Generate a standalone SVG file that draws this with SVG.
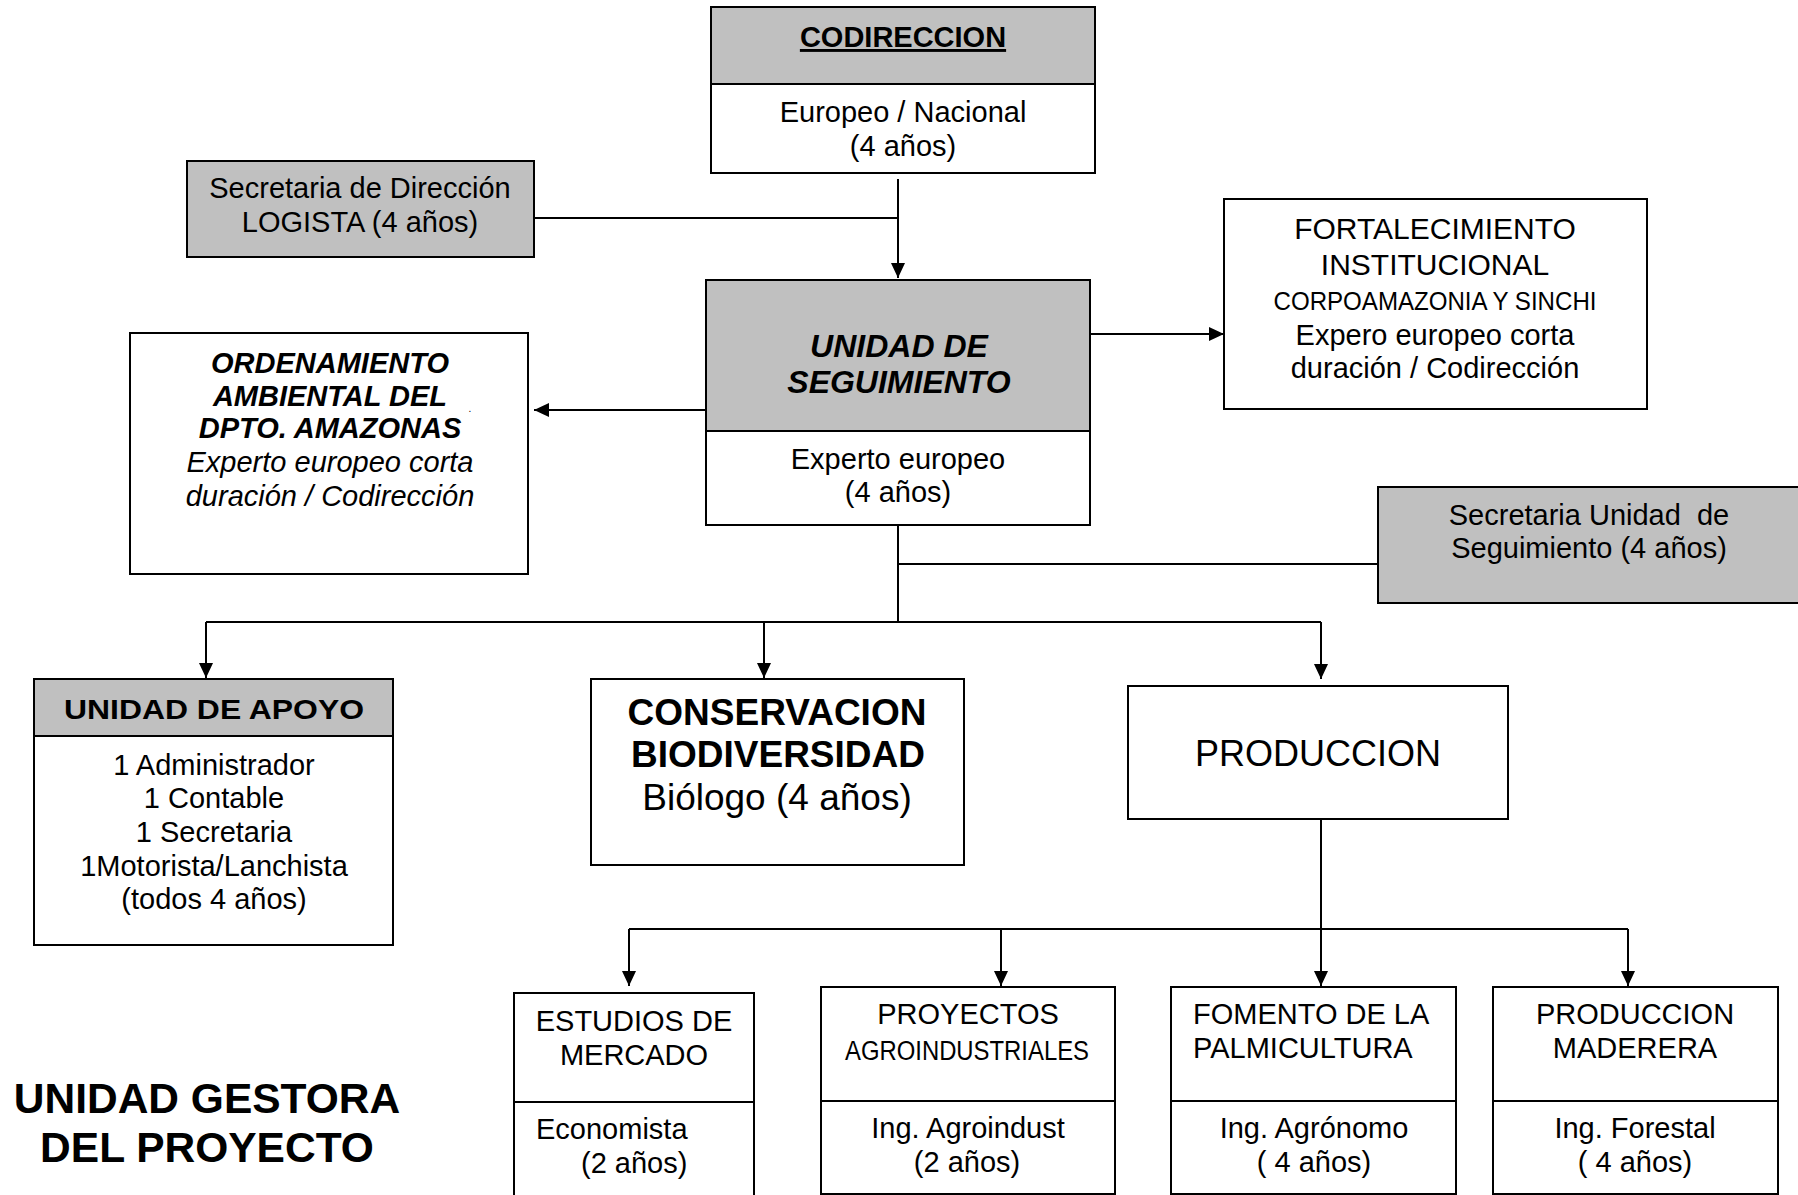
<svg xmlns="http://www.w3.org/2000/svg" width="1798" height="1195" viewBox="0 0 1798 1195">
<style>
text{font-family:"Liberation Sans",Arial,sans-serif;fill:#000;text-anchor:middle}
.f29{font-size:29px}
.b{font-weight:bold}
.i{font-style:italic}
.box{fill:#fff;stroke:#000;stroke-width:2}
.gray{fill:#C0C0C0;stroke:#000;stroke-width:2}
.ln{fill:none;stroke:#000;stroke-width:2}
</style>
<defs>
<marker id="arr" viewBox="0 0 15 14" refX="15" refY="7" markerWidth="15" markerHeight="14" markerUnits="userSpaceOnUse" orient="auto">
<path d="M0,0 L15,7 L0,14 z" fill="#000"/>
</marker>
</defs>
<rect width="1798" height="1195" fill="#fff"/>

<g id="connectors">
<path class="ln" d="M534,218 H898"/>
<path class="ln" d="M898,179 V278" marker-end="url(#arr)"/>
<path class="ln" d="M706,410 H534" marker-end="url(#arr)"/>
<path class="ln" d="M1090,334 H1224" marker-end="url(#arr)"/>
<path class="ln" d="M898,525 V622"/>
<path class="ln" d="M898,564 H1378"/>
<path class="ln" d="M206,622 H1321"/>
<path class="ln" d="M206,622 V678" marker-end="url(#arr)"/>
<path class="ln" d="M764,622 V678" marker-end="url(#arr)"/>
<path class="ln" d="M1321,622 V679" marker-end="url(#arr)"/>
<path class="ln" d="M1321,813 V986" marker-end="url(#arr)"/>
<path class="ln" d="M629,929 H1628"/>
<path class="ln" d="M629,929 V986" marker-end="url(#arr)"/>
<path class="ln" d="M1001,929 V986" marker-end="url(#arr)"/>
<path class="ln" d="M1628,929 V986" marker-end="url(#arr)"/>
</g>

<g id="codireccion">
<rect class="gray" x="711" y="7" width="384" height="77"/>
<rect class="box" x="711" y="84" width="384" height="89"/>
<text class="f29 b" x="903" y="47" text-decoration="underline">CODIRECCION</text>
<text class="f29" x="903" y="122">Europeo / Nacional</text>
<text class="f29" x="903" y="156">(4 años)</text>
</g>

<g id="secretaria-direccion">
<rect class="gray" x="187" y="161" width="347" height="96"/>
<text class="f29" x="360" y="198">Secretaria de Dirección</text>
<text class="f29" x="360" y="232">LOGISTA (4 años)</text>
</g>

<g id="unidad-seguimiento">
<rect class="gray" x="706" y="280" width="384" height="151"/>
<rect class="box" x="706" y="431" width="384" height="94"/>
<text class="b i" style="font-size:32px" x="899" y="357">UNIDAD DE</text>
<text class="b i" style="font-size:32px" x="899" y="393">SEGUIMIENTO</text>
<text class="f29" x="898" y="469">Experto europeo</text>
<text class="f29" x="898" y="502">(4 años)</text>
</g>

<g id="ordenamiento">
<rect class="box" x="130" y="333" width="398" height="241"/>
<text class="f29 b i" x="330" y="373">ORDENAMIENTO</text>
<text class="f29 b i" x="330" y="406">AMBIENTAL DEL</text>
<text class="f29 b i" x="330" y="438">DPTO. AMAZONAS</text>
<text style="font-size:10px" x="470" y="412">.</text>
<text class="f29 i" x="330" y="472">Experto europeo corta</text>
<text class="f29 i" x="330" y="506">duración / Codirección</text>
</g>

<g id="fortalecimiento">
<rect class="box" x="1224" y="199" width="423" height="210"/>
<text style="font-size:30px" x="1435" y="239">FORTALECIMIENTO</text>
<text style="font-size:30px" x="1435" y="275">INSTITUCIONAL</text>
<text style="font-size:25px" x="1435" y="310" textLength="323" lengthAdjust="spacingAndGlyphs">CORPOAMAZONIA Y SINCHI</text>
<text class="f29" x="1435" y="345">Expero europeo corta</text>
<text class="f29" x="1435" y="378">duración / Codirección</text>
</g>

<g id="secretaria-unidad">
<rect class="gray" x="1378" y="487" width="424" height="116"/>
<text class="f29" x="1589" y="525" xml:space="preserve">Secretaria Unidad  de</text>
<text class="f29" x="1589" y="558">Seguimiento (4 años)</text>
</g>

<g id="unidad-apoyo">
<rect class="gray" x="34" y="679" width="359" height="57"/>
<rect class="box" x="34" y="736" width="359" height="209"/>
<text class="b" style="font-size:28px" x="214" y="719" textLength="300" lengthAdjust="spacingAndGlyphs">UNIDAD DE APOYO</text>
<text class="f29" x="214" y="775">1 Administrador</text>
<text class="f29" x="214" y="808">1 Contable</text>
<text class="f29" x="214" y="842">1 Secretaria</text>
<text class="f29" x="214" y="876">1Motorista/Lanchista</text>
<text class="f29" x="214" y="909">(todos 4 años)</text>
</g>

<g id="conservacion">
<rect class="box" x="591" y="679" width="373" height="186"/>
<text class="b" style="font-size:37px" x="777" y="725">CONSERVACION</text>
<text class="b" style="font-size:37px" x="778" y="767">BIODIVERSIDAD</text>
<text style="font-size:37px" x="777" y="810">Biólogo (4 años)</text>
</g>

<g id="produccion">
<rect class="box" x="1128" y="686" width="380" height="133"/>
<text style="font-size:36px" x="1318" y="766">PRODUCCION</text>
</g>

<g id="estudios-mercado">
<rect class="box" x="514" y="993" width="240" height="109"/>
<rect class="box" x="514" y="1102" width="240" height="95"/>
<text class="f29" x="634" y="1031">ESTUDIOS DE</text>
<text class="f29" x="634" y="1065">MERCADO</text>
<text class="f29" x="536" y="1139" style="text-anchor:start">Economista</text>
<text class="f29" x="581" y="1173" style="text-anchor:start">(2 años)</text>
</g>

<g id="proyectos-agroindustriales">
<rect class="box" x="821" y="987" width="294" height="114"/>
<rect class="box" x="821" y="1101" width="294" height="93"/>
<text class="f29" x="968" y="1024">PROYECTOS</text>
<text style="font-size:27px" x="967" y="1060" textLength="244" lengthAdjust="spacingAndGlyphs">AGROINDUSTRIALES</text>
<text class="f29" x="968" y="1138">Ing. Agroindust</text>
<text class="f29" x="967" y="1172">(2 años)</text>
</g>

<g id="fomento-palmicultura">
<rect class="box" x="1171" y="987" width="285" height="114"/>
<rect class="box" x="1171" y="1101" width="285" height="93"/>
<text class="f29" x="1193" y="1024" style="text-anchor:start">FOMENTO DE LA</text>
<text class="f29" x="1193" y="1058" style="text-anchor:start">PALMICULTURA</text>
<text class="f29" x="1314" y="1138">Ing. Agrónomo</text>
<text class="f29" x="1314" y="1172">( 4 años)</text>
</g>

<g id="produccion-maderera">
<rect class="box" x="1493" y="987" width="285" height="114"/>
<rect class="box" x="1493" y="1101" width="285" height="93"/>
<text class="f29" x="1635" y="1024">PRODUCCION</text>
<text class="f29" x="1635" y="1058">MADERERA</text>
<text class="f29" x="1635" y="1138">Ing. Forestal</text>
<text class="f29" x="1635" y="1172">( 4 años)</text>
</g>

<g id="titulo">
<text class="b" style="font-size:42.5px" x="207" y="1113">UNIDAD GESTORA</text>
<text class="b" style="font-size:42.5px" x="207" y="1162">DEL PROYECTO</text>
</g>
</svg>
